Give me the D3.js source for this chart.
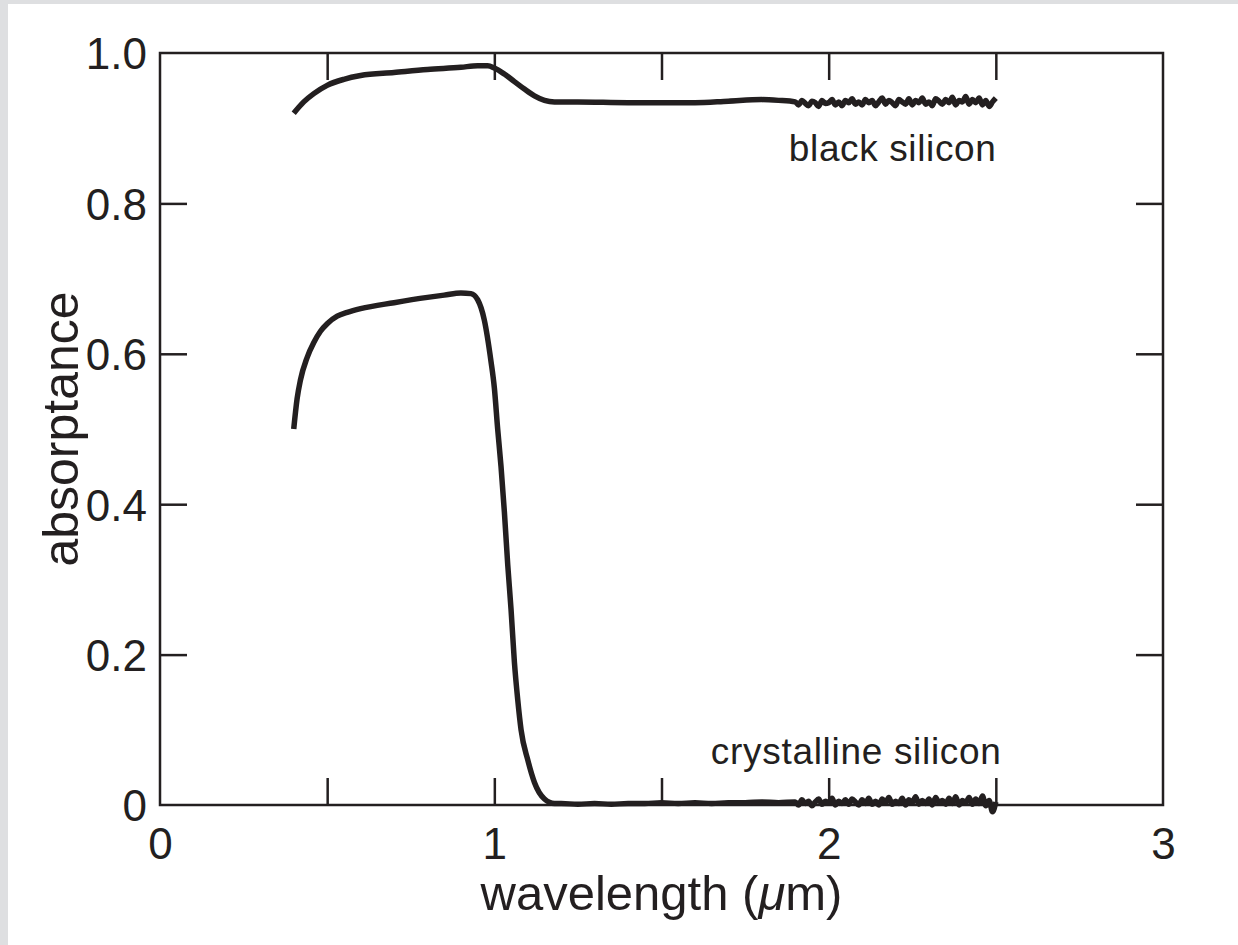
<!DOCTYPE html>
<html>
<head>
<meta charset="utf-8">
<script src="https://cdn.jsdelivr.net/npm/d3@7"></script>
<style>
  body { margin: 0; background: #dedfe1; }
  svg { display: block; }
  text { font-family: "Liberation Sans", Arial, Helvetica, sans-serif; fill: #231f20; }
</style>
</head>
<body>
<svg id="chart" width="1238" height="945"></svg>
<script>
// black silicon, smooth part (wavelength in um, absorptance)
const blackX = [0.40,0.43,0.46,0.50,0.55,0.60,0.70,0.80,0.90,0.95,0.98,1.00,1.03,1.06,1.09,1.12,1.15,1.18,1.25,1.40,1.60,1.70,1.80,1.85]
const blackY = [0.920,0.935,0.946,0.957,0.965,0.970,0.974,0.978,0.981,0.983,0.983,0.980,0.972,0.962,0.952,0.943,0.937,0.935,0.935,0.934,0.934,0.936,0.938,0.937]
// black silicon, noisy tail 1.90 .. 2.50 every 0.01
const blackNoise = [0.935,0.931,0.937,0.933,0.930,0.936,0.934,0.929,0.937,0.933,
  0.934,0.938,0.931,0.935,0.930,0.937,0.934,0.939,0.932,0.935,
  0.931,0.938,0.934,0.937,0.930,0.935,0.940,0.932,0.937,0.934,
  0.930,0.938,0.935,0.932,0.939,0.931,0.937,0.934,0.940,0.932,
  0.935,0.930,0.939,0.936,0.932,0.938,0.934,0.941,0.931,0.937,
  0.935,0.942,0.932,0.938,0.934,0.940,0.931,0.937,0.929,0.935,0.940]

// crystalline silicon, smooth part
const crystX = [0.40,0.41,0.42,0.44,0.46,0.48,0.50,0.53,0.56,0.60,0.70,0.80,0.85,0.90,0.93,0.95,0.97,0.99,1.00,1.01,1.02,1.03,1.04,1.05,1.06,1.07,1.08,1.10,1.12,1.15,1.18,
  1.20,1.25,1.30,1.35,1.40,1.45,1.50,1.55,1.60,1.65,1.70,1.75,1.80,1.85]
const crystY = [0.50,0.54,0.565,0.595,0.615,0.63,0.64,0.65,0.655,0.66,0.668,0.675,0.678,0.681,0.680,0.672,0.645,0.59,0.555,0.50,0.45,0.39,0.32,0.26,0.19,0.14,0.10,0.06,0.03,0.008,0.002,
  0.002,0.001,0.002,0.001,0.002,0.002,0.003,0.002,0.003,0.002,0.003,0.003,0.004,0.003]
// crystalline silicon, noisy tail 1.90 .. 2.50 every 0.01
const crystNoise = [0.004,0.000,0.007,0.002,0.005,-0.001,0.004,0.008,0.001,0.005,
  0.003,0.009,0.000,0.005,0.002,0.007,0.001,0.008,0.004,0.000,
  0.007,0.002,0.009,0.001,0.005,0.000,0.008,0.003,0.010,0.001,
  0.005,0.002,0.009,0.000,0.007,0.003,0.011,0.001,0.006,0.002,
  0.008,0.000,0.010,0.003,0.006,0.001,0.009,0.002,0.011,0.000,
  0.006,0.003,0.010,0.001,0.008,0.002,0.012,-0.001,0.006,-0.009,0.004]

const xLabelTicks = [0,1,2,3]
const xMinorTicks = [0.5,1,1.5,2,2.5]
const yLabelTicks = [0,0.2,0.4,0.6,0.8,1.0]
const yMinorTicks = [0.2,0.4,0.6,0.8]

const ink = "#231f20"

const svg = d3.select("#chart")
// white sheet, grey strip left and top
svg.append("rect").attr("x", 8).attr("y", 4).attr("width", 1230).attr("height", 941).attr("fill", "#fff")

const margin = {left: 160, top: 53, right: 75, bottom: 140}
const w = 1238 - margin.left - margin.right
const h = 945 - margin.top - margin.bottom

const g = svg.append("g").attr("transform", `translate(${margin.left},${margin.top})`)

const x = d3.scaleLinear().domain([0,3]).range([0,w])
const y = d3.scaleLinear().domain([0,1]).range([h,0])

const tailX = d3.range(61).map(i => +(1.90 + i*0.01).toFixed(2))
const black = blackX.map((d,i) => [d, blackY[i]]).concat(tailX.map((d,i) => [d, blackNoise[i]]))
const cryst = crystX.map((d,i) => [d, crystY[i]]).concat(tailX.map((d,i) => [d, crystNoise[i]]))

// inward ticks on all four sides
const tickLen = 27
g.append("g").attr("transform", `translate(0,${h})`)
  .call(d3.axisBottom(x).tickValues(xMinorTicks).tickSize(-tickLen).tickFormat(""))
g.append("g")
  .call(d3.axisTop(x).tickValues(xMinorTicks).tickSize(-tickLen).tickFormat(""))
g.append("g")
  .call(d3.axisLeft(y).tickValues(yMinorTicks).tickSize(-tickLen).tickFormat(""))
g.append("g").attr("transform", `translate(${w},0)`)
  .call(d3.axisRight(y).tickValues(yMinorTicks).tickSize(-tickLen).tickFormat(""))
g.selectAll(".domain").remove()
g.selectAll(".tick line").attr("stroke", ink).attr("stroke-width", 2.5)

// tick labels
const xl = g.append("g").attr("transform", `translate(0,${h})`)
  .call(d3.axisBottom(x).tickValues(xLabelTicks).tickSize(0).tickFormat(d3.format("d")))
xl.selectAll("text").attr("dy", null).attr("y", 54)
const yl = g.append("g")
  .call(d3.axisLeft(y).tickValues(yLabelTicks).tickSize(0).tickFormat(d => d === 0 ? "0" : d3.format(".1f")(d)))
yl.selectAll("text").attr("x", -13).attr("dy", "0.36em")
g.selectAll(".domain").remove()
xl.selectAll("text").attr("font-size", 44).attr("font-family", null)
yl.selectAll("text").attr("font-size", 44).attr("font-family", null)

// frame
g.append("rect").attr("width", w).attr("height", h)
  .attr("fill", "none").attr("stroke", ink).attr("stroke-width", 2.5)

// curves
const line = d3.line().x(d => x(d[0])).y(d => y(d[1])).curve(d3.curveMonotoneX)
g.selectAll(".curve").data([black, cryst]).enter().append("path")
  .attr("class", "curve")
  .attr("d", line)
  .attr("fill", "none")
  .attr("stroke", ink)
  .attr("stroke-width", 5.5)
  .attr("stroke-linejoin", "round")

// series labels
g.append("text").attr("x", x(2.5)).attr("y", 108).attr("text-anchor", "end")
  .attr("font-size", 37).attr("textLength", 207).attr("lengthAdjust", "spacing").text("black silicon")
g.append("text").attr("x", x(2.515)).attr("y", 711).attr("text-anchor", "end")
  .attr("font-size", 37).attr("textLength", 290).attr("lengthAdjust", "spacing").text("crystalline silicon")

// axis titles
const xt = svg.append("text").attr("x", margin.left + w/2).attr("y", 910)
  .attr("text-anchor", "middle").attr("font-size", 49)
xt.append("tspan").text("wavelength (")
xt.append("tspan").attr("font-style", "italic").text("μ")
xt.append("tspan").text("m)")

svg.append("text")
  .attr("transform", `translate(78,${margin.top + h/2}) rotate(-90)`)
  .attr("text-anchor", "middle").attr("font-size", 50)
  .text("absorptance")
</script>
</body>
</html>
